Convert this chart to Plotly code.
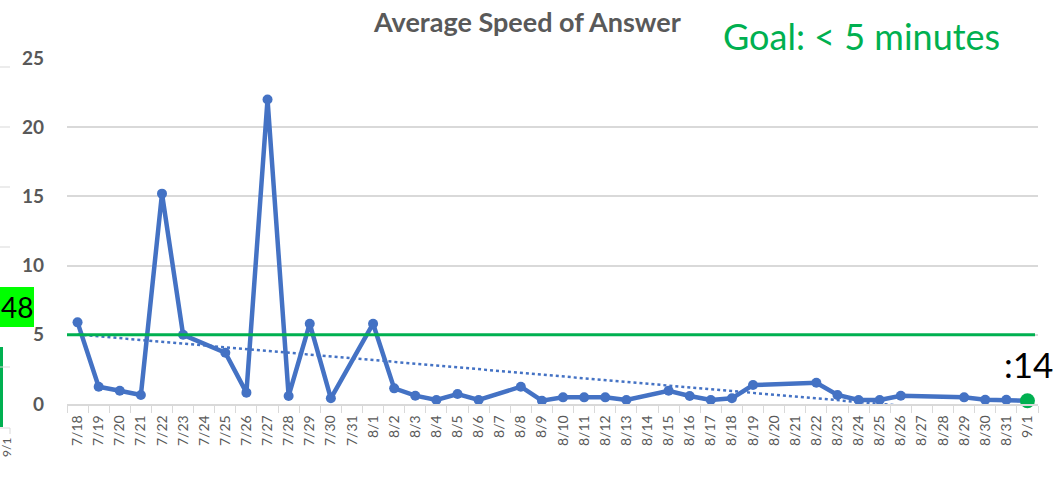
import numpy as np
import plotly.graph_objects as go

# ---------------- data ----------------
dates = ["7/18", "7/19", "7/20", "7/21", "7/22", "7/23", "7/24", "7/25", "7/26", "7/27",
         "7/28", "7/29", "7/30", "7/31", "8/1", "8/2", "8/3", "8/4", "8/5", "8/6",
         "8/7", "8/8", "8/9", "8/10", "8/11", "8/12", "8/13", "8/14", "8/15", "8/16",
         "8/17", "8/18", "8/19", "8/20", "8/21", "8/22", "8/23", "8/24", "8/25", "8/26",
         "8/27", "8/28", "8/29", "8/30", "8/31", "9/1"]
speed = [5.9, 1.25, 0.96, 0.65, 15.2, 5.0, None, 3.7, 0.82, 22.0,
         0.58, 5.8, 0.41, None, 5.8, 1.13, 0.6, 0.29, 0.72, 0.29,
         None, 1.25, 0.24, 0.48, 0.48, 0.48, 0.29, None, 0.96, 0.58,
         0.29, 0.41, 1.37, None, None, 1.54, 0.65, 0.29, 0.29, 0.6,
         None, None, 0.48, 0.3, 0.3, 0.23]
goal = 5
y_ticks = [0, 5, 10, 15, 20, 25]
last_label = ":14"

BLUE = "#4472C4"
GREEN = "#00B050"
GRID = "#D9D9D9"
TXT = "#595959"

# plot area geometry in pixels
W, H = 1060, 480
L, R, T, B = 67, 1038, 58, 404


def px(x):
    return (x - L) / (R - L)


def py(y):
    return (B - y) / (B - T)


# linear trendline (least squares over the available points)
idx = np.array([i for i, v in enumerate(speed) if v is not None], dtype=float)
vals = np.array([v for v in speed if v is not None], dtype=float)
slope, intercept = np.polyfit(idx, vals, 1)
trend = [intercept + slope * i for i in range(len(dates))]

fig = go.Figure()

fig.add_trace(go.Scatter(
    x=dates, y=trend, mode="lines",
    line=dict(color=BLUE, width=2.5, dash="dot"),
    hoverinfo="skip", showlegend=False))

fig.add_trace(go.Scatter(
    x=dates, y=speed, mode="lines+markers", connectgaps=True,
    line=dict(color=BLUE, width=4.5),
    marker=dict(color=BLUE, size=10),
    showlegend=False))

fig.add_trace(go.Scatter(
    x=[dates[-1]], y=[speed[-1]], mode="markers",
    marker=dict(color=GREEN, size=15),
    showlegend=False, cliponaxis=False))

shapes = [
    dict(type="line", xref="paper", yref="y", x0=0, x1=px(1035), y0=goal, y1=goal,
         line=dict(color=GREEN, width=3)),
    # fragments of the neighbouring chart on the left edge
    dict(type="rect", xref="paper", yref="paper", x0=px(-1), x1=px(34), y0=py(327), y1=py(287),
         fillcolor="#00FF00", line=dict(width=0), layer="above"),
    dict(type="rect", xref="paper", yref="paper", x0=px(-1), x1=px(3), y0=py(427), y1=py(347),
         fillcolor=GREEN, line=dict(width=0)),
    dict(type="line", xref="paper", yref="paper", x0=px(0), x1=px(10), y0=py(428), y1=py(428),
         line=dict(color=GRID, width=1)),
    dict(type="line", xref="paper", yref="paper", x0=px(10), x1=px(10), y0=py(428), y1=py(434),
         line=dict(color=GRID, width=1)),
]
for yy in [67, 127, 187, 247, 367]:
    shapes.append(dict(type="line", xref="paper", yref="paper", x0=px(0), x1=px(10),
                       y0=py(yy), y1=py(yy), line=dict(color=GRID, width=1)))

annotations = [
    dict(text="<b>Average Speed of Answer</b>", xref="paper", yref="paper",
         x=px(527), y=py(21), showarrow=False, font=dict(size=27, color=TXT, family="Lato"),
         xanchor="center", yanchor="middle"),
    dict(text="Goal: < 5 minutes", xref="paper", yref="paper",
         x=px(861), y=py(36), showarrow=False, font=dict(size=36, color=GREEN, family="Lato"),
         xanchor="center", yanchor="middle"),
    dict(text=last_label, xref="paper", yref="paper",
         x=px(1028), y=py(364), showarrow=False, font=dict(size=35, color="black", family="Lato"),
         xanchor="center", yanchor="middle"),
    dict(text="48", xref="paper", yref="paper",
         x=px(34), y=py(307), showarrow=False, font=dict(size=28, color="black", family="Lato"),
         xanchor="right", yanchor="middle", borderpad=0),
    dict(text="9/1", xref="paper", yref="paper", textangle=-90,
         x=px(6), y=py(448), showarrow=False, font=dict(size=12, color=TXT, family="Lato"),
         xanchor="center", yanchor="middle"),
]

fig.update_layout(
    width=W, height=H,
    margin=dict(l=L, r=W - R, t=T, b=H - B, autoexpand=False),
    paper_bgcolor="white", plot_bgcolor="white",
    font=dict(family="Lato", color=TXT),
    shapes=shapes, annotations=annotations,
    showlegend=False,
)
fig.update_xaxes(
    type="category", categoryorder="array", categoryarray=dates,
    range=[-0.5, len(dates) - 0.5],
    tickangle=-90, tickfont=dict(size=14, color=TXT, family="Lato"),
    showgrid=False, showline=True, linecolor=GRID, linewidth=1.5,
    ticks="outside", tickson="boundaries", ticklen=7, tickcolor=GRID,
    zeroline=False, ticklabelstandoff=4,
)
fig.update_yaxes(
    range=[0, 25], tickvals=y_ticks,
    tickfont=dict(size=19, color=TXT, family="Lato", weight="bold"),
    showgrid=True, gridcolor=GRID, gridwidth=1.5,
    zeroline=False, showline=False, ticks="", ticklabelstandoff=22,
)

fig.write_html("out.html", config={"displayModeBar": False},
               post_script="document.body.style.margin='0px';document.body.style.overflow='hidden';")
